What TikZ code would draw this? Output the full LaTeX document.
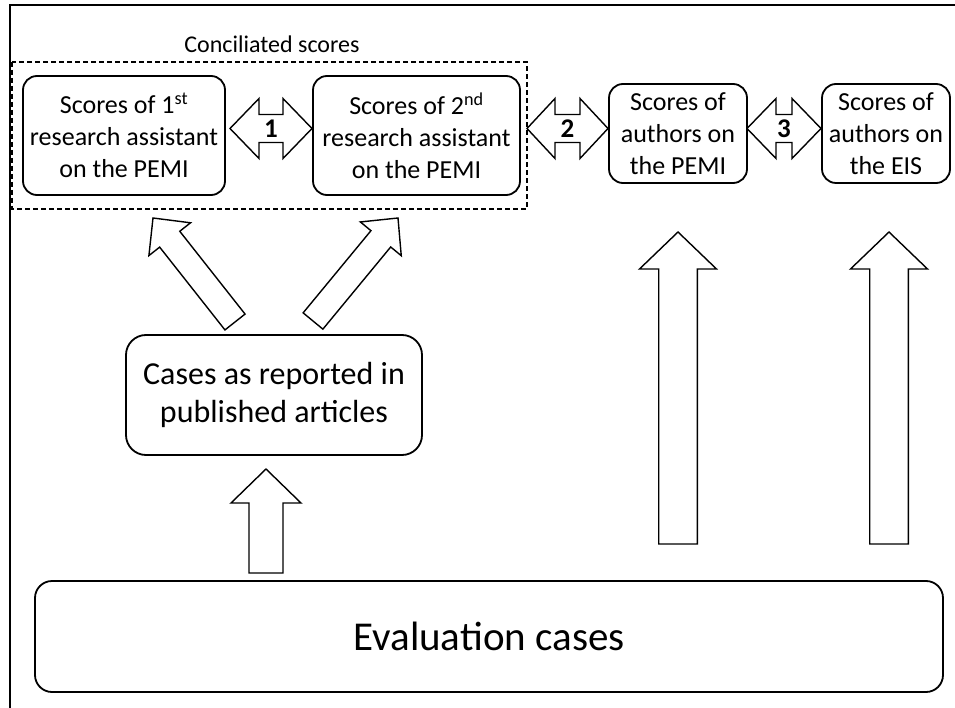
\documentclass[tikz,border=0pt]{standalone}
\usepackage{fontspec}
\setmainfont{Carlito}
\usetikzlibrary{calc}
\tikzset{
  box/.style={draw, line width=1.8pt, rounded corners=14pt, align=center,
    font=\fontsize{26}{32}\selectfont, inner sep=0pt},
  blk/.style={draw, line width=1.4pt, fill=white, line join=miter},
  lbl/.style={font=\fontsize{27}{30}\selectfont\bfseries, inner sep=0pt},
}
\newcommand{\blockarrow}[5]{%
  \coordinate (ba-h) at ($(#2)!#5!(#1)$);
  \draw[blk] ($(#1)!#3!90:(#2)$) -- ($(ba-h)!#3!90:(#2)$) -- ($(ba-h)!#4!90:(#2)$)
    -- (#2) -- ($(ba-h)!#4!-90:(#2)$) -- ($(ba-h)!#3!-90:(#2)$) -- ($(#1)!#3!-90:(#2)$) -- cycle;
}
\newcommand{\dblarrow}[5]{%
  \coordinate (da-l) at ($(#1)!#5!(#2)$);
  \coordinate (da-r) at ($(#2)!#5!(#1)$);
  \draw[blk] (#1) -- ($(da-l)!#4!90:(#2)$) -- ($(da-l)!#3!90:(#2)$) -- ($(da-r)!#3!-90:(#1)$)
    -- ($(da-r)!#4!-90:(#1)$) -- (#2) -- ($(da-r)!#4!90:(#1)$) -- ($(da-r)!#3!90:(#1)$)
    -- ($(da-l)!#3!-90:(#2)$) -- ($(da-l)!#4!-90:(#2)$) -- cycle;
}
\begin{document}
\begin{tikzpicture}[x=1pt, y=-1pt]
\useasboundingbox (0,0) rectangle (955,708);
% outer frame lines
\draw[line width=1.2pt] (10,708) -- (10,5) -- (955,5);

% dashed group
\draw[line width=1.3pt, dash pattern=on 5pt off 3pt] (12,62) rectangle (527,209);
\node[font=\fontsize{24}{28}\selectfont, anchor=base] (conc) at (272,53) {Conciliated scores};

% boxes
\node[box, minimum width=202pt, minimum height=119pt] (b1) at (124,135.5)
  {Scores of 1\textsuperscript{st}\\research assistant\\on the PEMI};
\node[box, minimum width=207pt, minimum height=119pt] (b2) at (416.5,135.5)
  {Scores of 2\textsuperscript{nd}\\research assistant\\on the PEMI};
\node[box, minimum width=138pt, minimum height=99pt] (b3) at (678,133.5)
  {Scores of\\authors on\\the PEMI};
\node[box, minimum width=128pt, minimum height=99pt] (b4) at (886,133.5)
  {Scores of\\authors on\\the EIS};
\node[box, rounded corners=20pt, minimum width=296pt, minimum height=120pt,
  font=\fontsize{32}{38}\selectfont] (cases) at (274,395)
  {Cases as reported in\\published articles};
\node[box, rounded corners=17pt, minimum width=908pt, minimum height=111pt,
  font=\fontsize{41}{48}\selectfont] (eval) at (489,636.5) {Evaluation cases};

% double arrows between score boxes
\coordinate (d1l) at (230,128.5);
\coordinate (d1r) at (312,128.5);
\coordinate (d2l) at (527,128.5);
\coordinate (d2r) at (608,128.5);
\coordinate (d3l) at (747,128.5);
\coordinate (d3r) at (821,128.5);
\dblarrow{d1l}{d1r}{14pt}{30pt}{29pt}
\dblarrow{d2l}{d2r}{14pt}{30pt}{28pt}
\dblarrow{d3l}{d3r}{14pt}{30pt}{29pt}
\node[lbl] (l1) at ($(d1l)!0.5!(d1r)$) {1};
\node[lbl] (l2) at ($(d2l)!0.5!(d2r)$) {2};
\node[lbl] (l3) at ($(d3l)!0.5!(d3r)$) {3};

% block arrows
\coordinate (a1b) at (235,322);
\coordinate (a1t) at (153,218);
\coordinate (a2b) at (313,321);
\coordinate (a2t) at (398,218);
\blockarrow{a1b}{a1t}{12.8pt}{26.5pt}{27pt}
\blockarrow{a2b}{a2t}{12.8pt}{26.5pt}{27pt}

\coordinate (a3b) at (266,573);
\coordinate (a3t) at (266,469);
\blockarrow{a3b}{a3t}{17pt}{35pt}{34pt}

\coordinate (a4b) at (678,544);
\coordinate (a4t) at (678,232);
\blockarrow{a4b}{a4t}{19.3pt}{38.5pt}{37pt}
\coordinate (a5b) at (889,544);
\coordinate (a5t) at (889,232);
\blockarrow{a5b}{a5t}{19.3pt}{38.5pt}{37pt}
\end{tikzpicture}
\end{document}
